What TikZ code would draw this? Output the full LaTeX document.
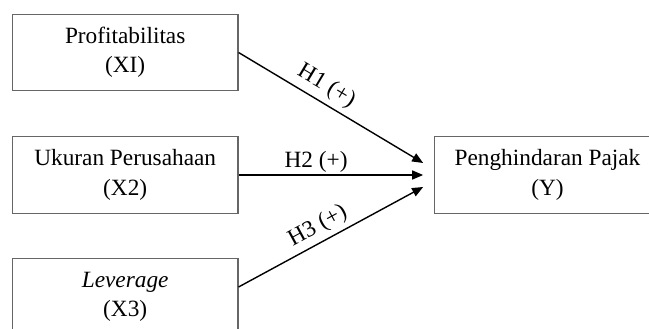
\documentclass[tikz,border=0pt]{standalone}
\usepackage{fontspec}
\setmainfont{Liberation Serif}
\usetikzlibrary{arrows.meta,calc}
\begin{document}
\begin{tikzpicture}[x=1pt,y=-1pt,
  box/.style={draw=black!60, line width=1.2pt, minimum width=225.5pt, minimum height=76.6pt,
    align=center, inner sep=0pt, font=\fontsize{23.3}{29.3}\selectfont},
  arr/.style={line width=1.4pt, -{Triangle[length=11pt,width=9pt]}},
  lab/.style={sloped, above=1.5pt, inner sep=0pt, font=\fontsize{23.3}{29.3}\selectfont}]
\useasboundingbox (0,0) rectangle (649,329);
\clip (0,0) rectangle (649,329);
\node[box] (A) at (125.2,52.5) {Profitabilitas\\(XI)};
\node[box] (B) at (125.2,175) {Ukuran Perusahaan\\(X2)};
\node[box] (C) at (125.2,296.7) {\textit{Leverage}\\(X3)};
\node[box] (Y) at (547.5,175) {Penghindaran Pajak\\(Y)};
\coordinate (t1) at ($(Y.west)+(-11,-12)$);
\coordinate (t2) at ($(Y.west)+(-11,0)$);
\coordinate (t3) at ($(Y.west)+(-11,12)$);
\coordinate (s3) at ($(C.east)+(0,-9.7)$);
\draw[arr] (A.east) -- node[lab, pos=0.43, above=3.5pt] {H1 (+)} (t1);
\draw[arr] (B.east) -- node[lab, pos=0.42] {H2 (+)} (t2);
\draw[arr] (s3) -- node[lab, pos=0.47, above=3pt] {H3 (+)} (t3);
\end{tikzpicture}
\end{document}
